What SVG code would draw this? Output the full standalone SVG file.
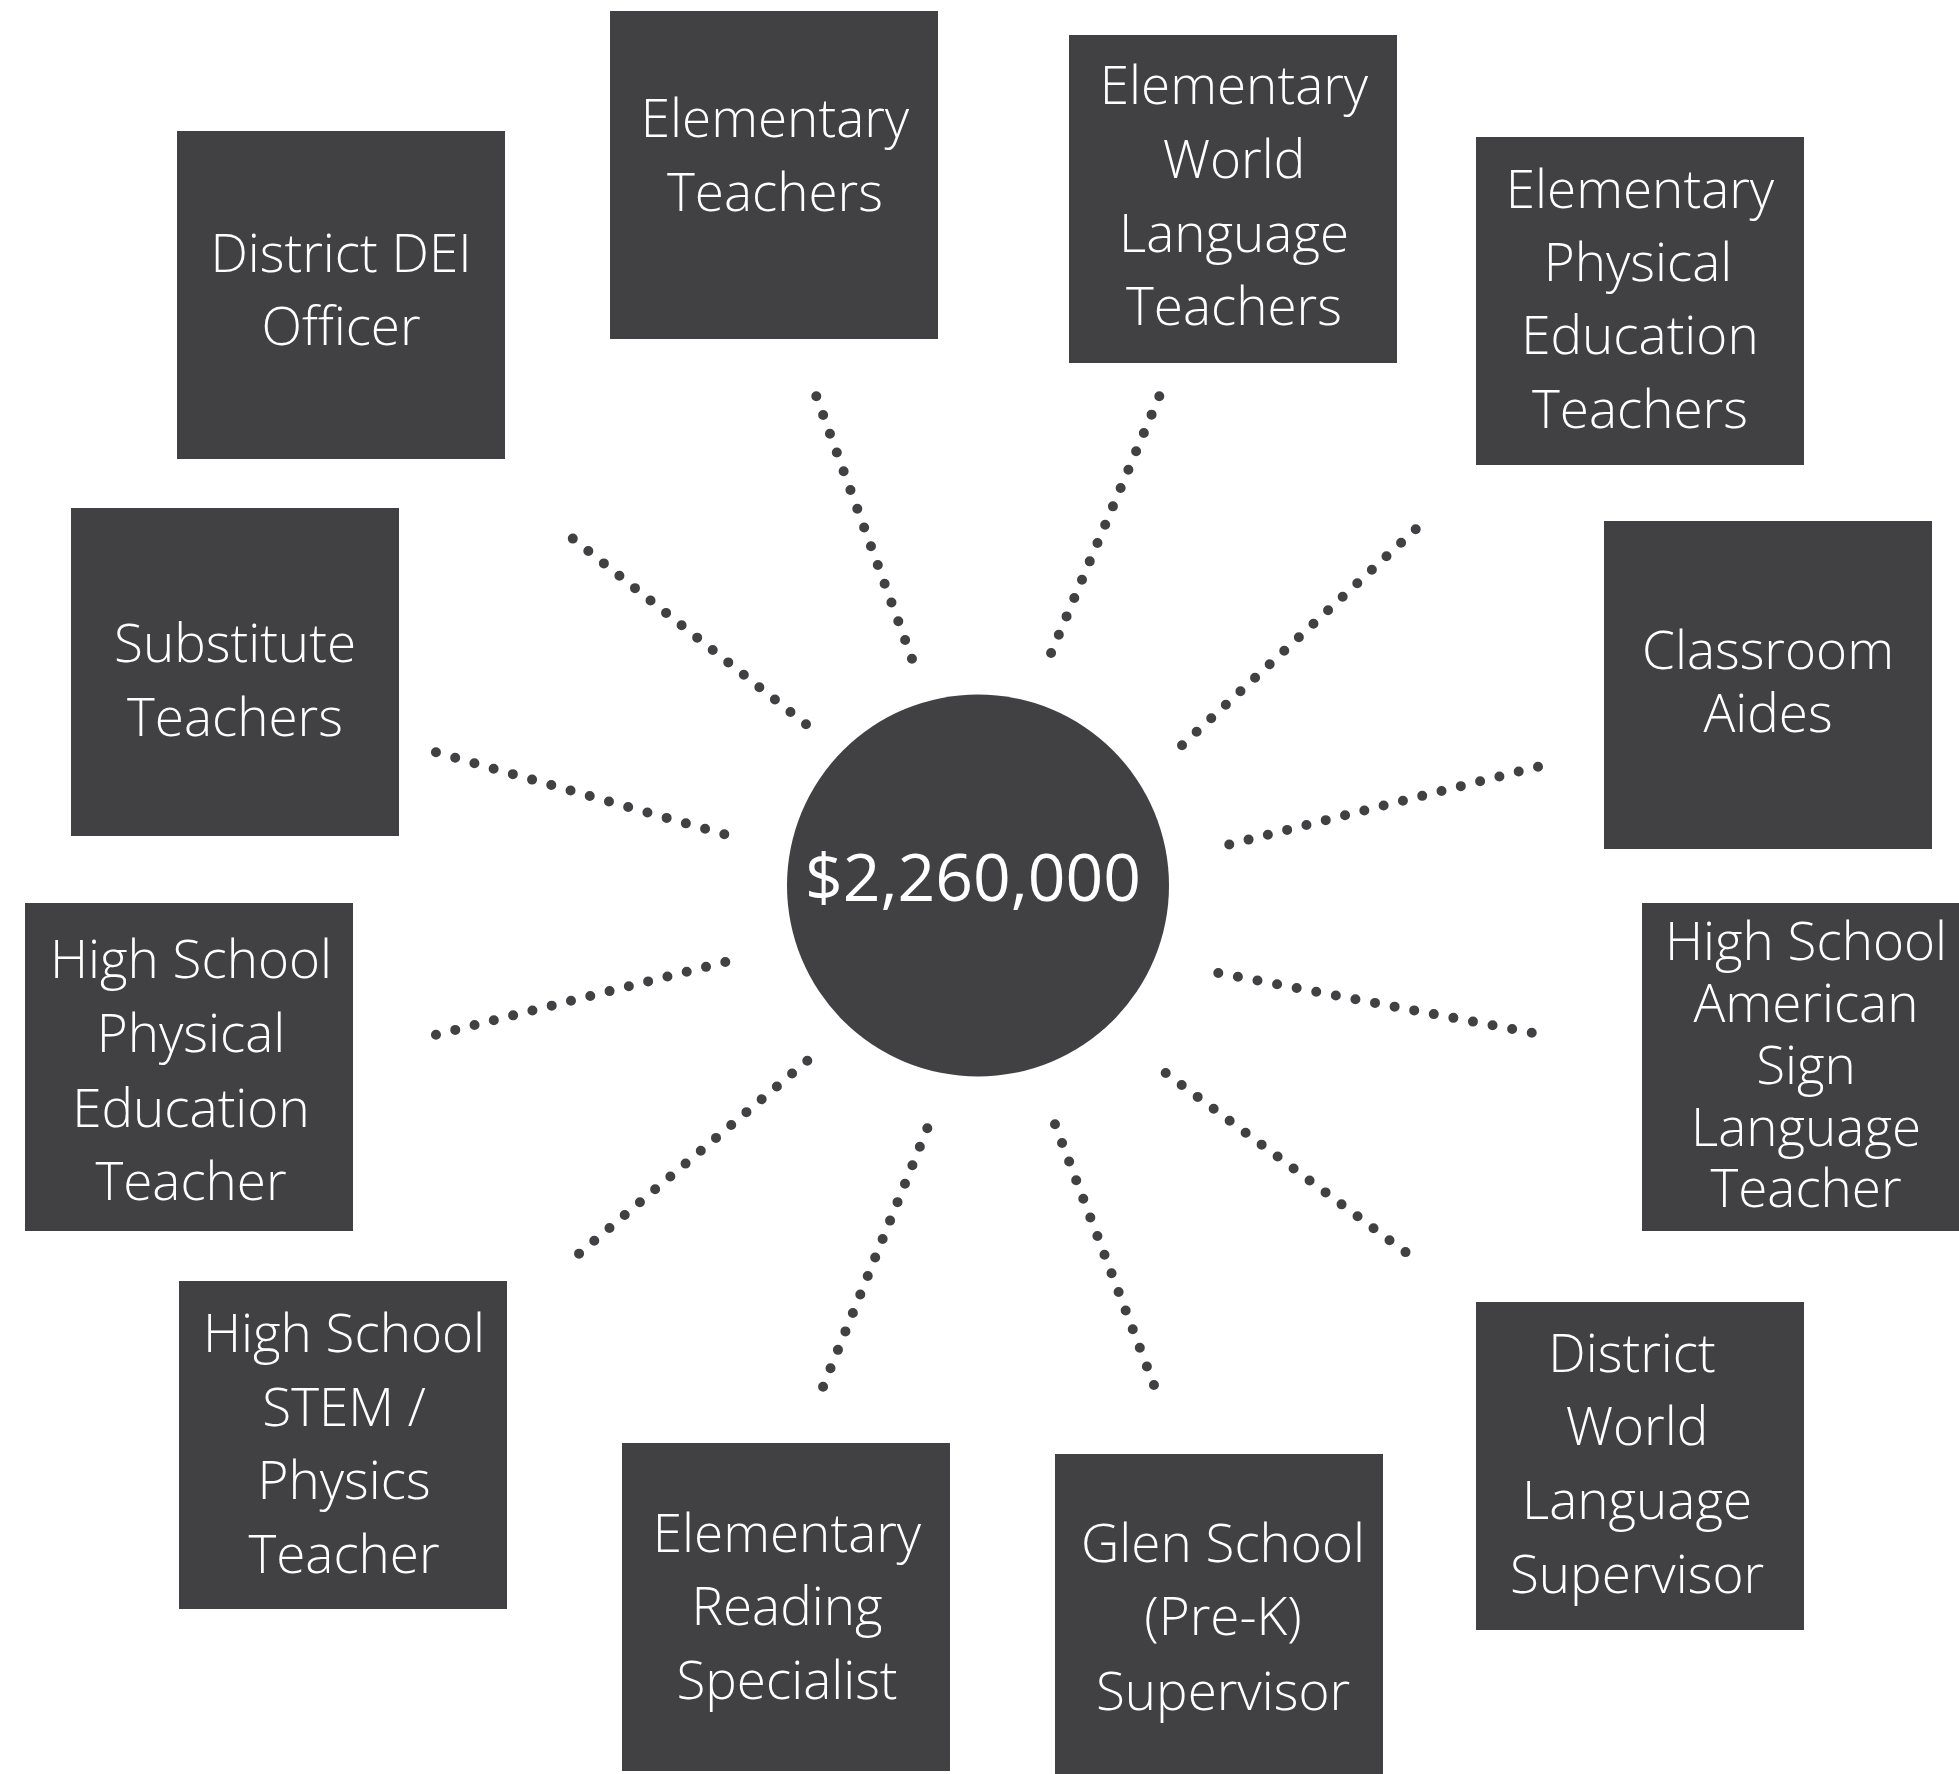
<svg xmlns="http://www.w3.org/2000/svg" width="1959" height="1774" viewBox="0 0 1959 1774">
<style>
.box{fill:#414042}
.lbl{font-family:"Open Sans","Liberation Sans",sans-serif;font-weight:300;font-size:53px;fill:#ffffff;text-anchor:middle}
.big{font-family:"Open Sans","Liberation Sans",sans-serif;font-weight:400;font-size:66px;fill:#ffffff;text-anchor:middle}
.dots{stroke:#414042;stroke-width:10;stroke-linecap:round;stroke-dasharray:0 20;fill:none}
</style>
<rect width="1959" height="1774" fill="#ffffff"/>
<g id="connectors">
<line class="dots" x1="816.3" y1="396.3" x2="912.3" y2="659.7" pathLength="281"/>
<line class="dots" x1="1159.3" y1="396.3" x2="1050.7" y2="654" pathLength="281"/>
<line class="dots" x1="1415.7" y1="529.3" x2="1181.3" y2="746" pathLength="321"/>
<line class="dots" x1="1538" y1="766.7" x2="1228.3" y2="844.7" pathLength="321"/>
<line class="dots" x1="1218.3" y1="973" x2="1532.7" y2="1033" pathLength="321"/>
<line class="dots" x1="1165.7" y1="1073" x2="1406.3" y2="1252.7" pathLength="301"/>
<line class="dots" x1="1055" y1="1124.3" x2="1154.3" y2="1386" pathLength="281"/>
<line class="dots" x1="927.3" y1="1128.3" x2="822.7" y2="1387.7" pathLength="281"/>
<line class="dots" x1="807.3" y1="1060.7" x2="578.3" y2="1254.3" pathLength="301"/>
<line class="dots" x1="725.3" y1="962" x2="435" y2="1035" pathLength="301"/>
<line class="dots" x1="724.3" y1="834.3" x2="435" y2="752" pathLength="301"/>
<line class="dots" x1="806" y1="724.3" x2="572" y2="538" pathLength="301"/>
</g>
<g id="center">
<circle cx="978" cy="885.5" r="191" class="box"/>
<text class="big" x="973" y="901">$2,260,000</text>
</g>
<g id="district-dei">
<rect class="box" x="177" y="131" width="328" height="328"/>
<text class="lbl" x="341" y="272">District DEI</text>
<text class="lbl" x="341" y="345">Officer</text>
</g>
<g id="elementary-teachers">
<rect class="box" x="610" y="11" width="328" height="328"/>
<text class="lbl" x="775" y="137">Elementary</text>
<text class="lbl" x="775" y="211">Teachers</text>
</g>
<g id="elementary-world-language">
<rect class="box" x="1069" y="35" width="328" height="328"/>
<text class="lbl" x="1234" y="104">Elementary</text>
<text class="lbl" x="1234" y="178">World</text>
<text class="lbl" x="1234" y="252">Language</text>
<text class="lbl" x="1234" y="325">Teachers</text>
</g>
<g id="elementary-pe">
<rect class="box" x="1476" y="137" width="328" height="328"/>
<text class="lbl" x="1640" y="208">Elementary</text>
<text class="lbl" x="1638" y="281">Physical</text>
<text class="lbl" x="1640" y="354">Education</text>
<text class="lbl" x="1640" y="428">Teachers</text>
</g>
<g id="classroom-aides">
<rect class="box" x="1604" y="521" width="328" height="328"/>
<text class="lbl" x="1768" y="669">Classroom</text>
<text class="lbl" x="1768" y="732">Aides</text>
</g>
<g id="hs-asl">
<rect class="box" x="1642" y="903" width="328" height="328"/>
<text class="lbl" x="1806" y="960">High School</text>
<text class="lbl" x="1806" y="1022">American</text>
<text class="lbl" x="1806" y="1084">Sign</text>
<text class="lbl" x="1806" y="1146">Language</text>
<text class="lbl" x="1806" y="1207">Teacher</text>
</g>
<g id="district-wl-supervisor">
<rect class="box" x="1476" y="1302" width="328" height="328"/>
<text class="lbl" x="1632" y="1372">District</text>
<text class="lbl" x="1637" y="1445">World</text>
<text class="lbl" x="1637" y="1519">Language</text>
<text class="lbl" x="1637" y="1593">Supervisor</text>
</g>
<g id="glen-school">
<rect class="box" x="1055" y="1454" width="328" height="328"/>
<text class="lbl" x="1223" y="1562">Glen School</text>
<text class="lbl" x="1223" y="1635">(Pre-K)</text>
<text class="lbl" x="1223" y="1710">Supervisor</text>
</g>
<g id="elementary-reading">
<rect class="box" x="622" y="1443" width="328" height="328"/>
<text class="lbl" x="787" y="1552">Elementary</text>
<text class="lbl" x="787" y="1625">Reading</text>
<text class="lbl" x="787" y="1699">Specialist</text>
</g>
<g id="hs-stem">
<rect class="box" x="179" y="1281" width="328" height="328"/>
<text class="lbl" x="344" y="1352">High School</text>
<text class="lbl" x="344" y="1426">STEM /</text>
<text class="lbl" x="344" y="1499">Physics</text>
<text class="lbl" x="344" y="1573">Teacher</text>
</g>
<g id="hs-pe">
<rect class="box" x="25" y="903" width="328" height="328"/>
<text class="lbl" x="191" y="978">High School</text>
<text class="lbl" x="191" y="1052">Physical</text>
<text class="lbl" x="191" y="1127">Education</text>
<text class="lbl" x="191" y="1200">Teacher</text>
</g>
<g id="substitute-teachers">
<rect class="box" x="71" y="508" width="328" height="328"/>
<text class="lbl" x="235" y="662">Substitute</text>
<text class="lbl" x="235" y="736">Teachers</text>
</g>
</svg>
